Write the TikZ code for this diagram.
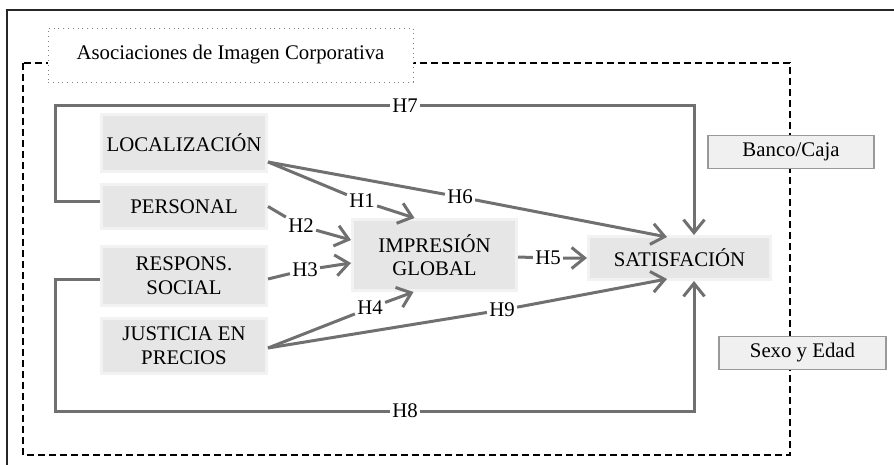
\documentclass[tikz,border=0pt]{standalone}
\usepackage{fontspec}
\setmainfont{Liberation Serif}
\usetikzlibrary{arrows.meta,calc}
\definecolor{arr}{HTML}{707070}
\definecolor{boxfill}{HTML}{E6E6E6}
\definecolor{boxedge}{HTML}{F2F2F2}
\definecolor{ctrlfill}{HTML}{F0F0F0}
\definecolor{ctrledge}{HTML}{999999}
\begin{document}
\begin{tikzpicture}[x=0.5pt,y=-0.5pt,
  every node/.style={font=\fontsize{10.4}{11.8}\selectfont},
  var/.style={fill=boxfill,draw=boxedge,line width=1.5pt,align=center,inner sep=0pt,minimum width=82.5pt},
  ctrl/.style={fill=ctrlfill,draw=ctrledge,line width=0.8pt,inner sep=0pt,minimum height=16.5pt},
  titlebox/.style={fill=white,draw=gray,dotted,line width=0.4pt,inner sep=0pt,minimum width=182.5pt,minimum height=27pt},
  conn/.style={draw=arr,line width=1.5pt,-{Straight Barb[length=6.5pt,width=10.5pt]}},
  hyp/.style={fill=white,inner sep=1pt},
  frame/.style={draw=black!85,line width=0.9pt},
  group/.style={draw=black,line width=1pt,dash pattern=on 3.5pt off 2pt}]
\useasboundingbox (0,0) rectangle (894,465);
\draw[frame] (7,465) -- (7,10) -- (894,10);
\draw[group] (23,63) rectangle (790,455);
\node[titlebox] (title) at (230.5,55) {Asociaciones de Imagen Corporativa};

\node[var,minimum height=28.5pt] (LOC) at (184,143) {LOCALIZACIÓN};
\node[var,minimum height=22pt] (PER) at (184,206.5) {PERSONAL};
\node[var,minimum height=29.5pt] (RES) at (184,276) {RESPONS.\\SOCIAL};
\node[var,minimum height=27.5pt] (JUS) at (184,346) {JUSTICIA EN\\PRECIOS};
\node[var,minimum width=82pt,minimum height=35.5pt] (IMP) at (434.5,255) {IMPRESIÓN\\GLOBAL};
\node[var,minimum width=91pt,minimum height=21.5pt] (SAT) at (679.5,258) {SATISFACIÓN};
\node[ctrl,minimum width=83pt] (BC) at (791,152) {Banco/Caja};
\node[ctrl,minimum width=83.5pt] (SE) at (802.5,353) {Sexo y Edad};

\node[hyp] (h1) at (362,201) {H1};
\node[hyp] (h2) at (301,226) {H2};
\node[hyp] (h3) at (305,270) {H3};
\node[hyp] (h4) at (370,308) {H4};
\node[hyp] (h5) at (548,258) {H5};
\node[hyp] (h6) at (460,197) {H6};
\node[hyp] (h7) at (405,106) {H7};
\node[hyp] (h8) at (405,411) {H8};
\node[hyp] (h9) at (502,310) {H9};

\coordinate (locout) at ([yshift=5.5pt]LOC.south east);
\coordinate (c7) at (55,106);
\coordinate (c8) at (55,411);
\coordinate (rx) at (694,0);

\draw[conn] (locout) -- (h1) -- ([xshift=-10pt]IMP.north);
\draw[conn] (locout) -- (h6) -- ([xshift=-6.25pt,yshift=-1pt]SAT.north);
\draw[conn] (PER.east) -- (h2) -- ([yshift=7.5pt]IMP.west);
\draw[conn] ([yshift=-1.5pt]RES.east) -- (h3) -- ([yshift=-4pt]IMP.west);
\draw[conn] ([yshift=-1pt]JUS.east) -- (h4) -- ([xshift=-10.5pt]IMP.south);
\draw[conn] ([yshift=-1pt]JUS.east) -- (h9) -- ([xshift=-6.25pt,yshift=1pt]SAT.south);
\draw[conn] ([yshift=-1pt]IMP.east) -- (h5) -- (SAT.west);
\draw[conn] ([yshift=2.5pt]PER.west) -| (c7) -- (h7) -- (rx |- c7) -- (rx |- SAT.north);
\draw[conn] ([yshift=-1.5pt]RES.west) -| (c8) -- (h8) -- (rx |- c8) -- (rx |- SAT.south);
\end{tikzpicture}
\end{document}
